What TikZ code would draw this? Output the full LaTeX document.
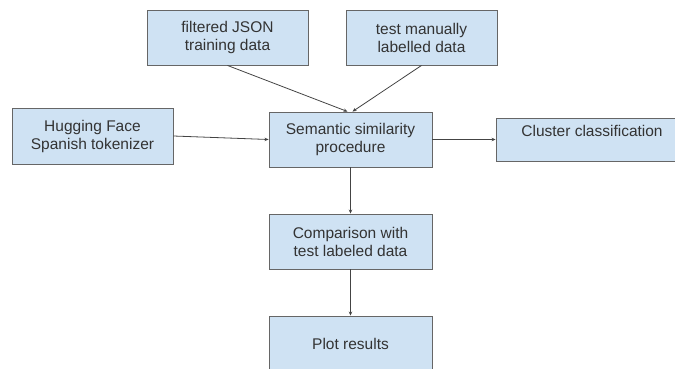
\documentclass[tikz,border=0pt]{standalone}
\usepackage{fontspec}
\setmainfont{Liberation Sans}
\usetikzlibrary{arrows.meta}
\definecolor{boxblue}{HTML}{CFE2F3}
\definecolor{edgegray}{HTML}{666666}
\definecolor{linegray}{HTML}{444444}
\begin{document}
\begin{tikzpicture}[x=1pt, y=1pt,
    main/.style = {draw=edgegray, fill=boxblue, line width=0.9pt, align=center, inner sep=0pt,
        minimum width=163pt, minimum height=55pt, text=black!80,
        font=\fontsize{15.5}{18}\selectfont},
    arr/.style = {draw=linegray, line width=0.8pt, -{Stealth[length=4pt,width=3.5pt]}}]
    \useasboundingbox (0,0) rectangle (675,368);
    \clip (0,0) rectangle (675,368);
    \node[main, minimum width=161pt] (1) at (227.5,330.5) {filtered JSON\\training data};
    \node[main, minimum width=151pt] (2) at (421.5,330.5) {test manually\\labelled data};
    \node[main, minimum width=161pt, minimum height=56pt] (3) at (92.5,232) {Hugging Face\\Spanish tokenizer};
    \node[main] (4) at (350.5,228.5) {Semantic similarity\\procedure};
    \node[main, minimum width=192pt, minimum height=0pt, inner ysep=4pt, text height=14.5pt, text depth=20.5pt] (5) at (592,228.5) {Cluster classification};
    \node[main] (6) [below of=4, node distance=102pt] {Comparison with\\test labeled data};
    \node[main] (7) [below of=6, node distance=102pt] {Plot results};
    \draw[arr] (1.south) -- ([xshift=-3pt]4.north);
    \draw[arr] (2.south) -- ([xshift=2pt]4.north);
    \draw[arr] (3.east) -- (4.west);
    \draw[arr] (4.east) -- (5.west);
    \draw[arr] (4) -- (6);
    \draw[arr] (6) -- (7);
\end{tikzpicture}
\end{document}
